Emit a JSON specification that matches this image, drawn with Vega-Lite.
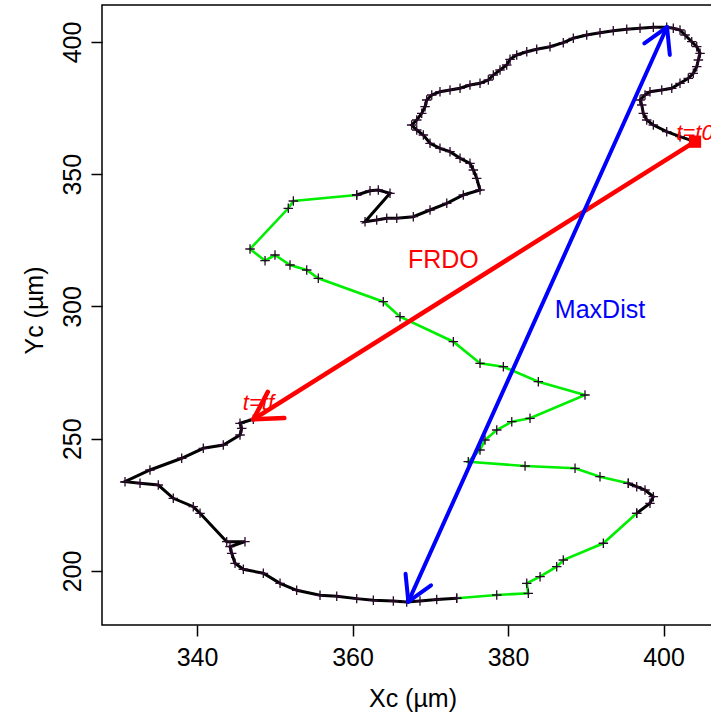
{
  "$schema": "https://vega.github.io/schema/vega-lite/v6.json",
  "width": 621,
  "height": 620,
  "autosize": {"type": "none"},
  "padding": {"left": 102, "top": 5, "right": 0, "bottom": 94},
  "background": "white",
  "config": {
    "view": {"stroke": "black", "strokeWidth": 1.5},
    "font": "Liberation Sans"
  },
  "datasets": {
    "track": [
      {"i":1,"x":404.05,"y":362.31,"seg":1,"speed":"slow"},
      {"i":2,"x":402.12,"y":364.20,"seg":1,"speed":"slow"},
      {"i":3,"x":400.41,"y":366.09,"seg":1,"speed":"slow"},
      {"i":4,"x":398.69,"y":368.62,"seg":1,"speed":"slow"},
      {"i":5,"x":397.84,"y":370.51,"seg":1,"speed":"slow"},
      {"i":6,"x":397.40,"y":373.04,"seg":1,"speed":"slow"},
      {"i":7,"x":397.20,"y":376.18,"seg":1,"speed":"slow"},
      {"i":8,"x":396.98,"y":378.07,"seg":1,"speed":"slow"},
      {"i":9,"x":397.62,"y":379.96,"seg":1,"speed":"slow"},
      {"i":10,"x":398.26,"y":381.21,"seg":1,"speed":"slow"},
      {"i":11,"x":399.77,"y":381.85,"seg":1,"speed":"slow"},
      {"i":12,"x":401.06,"y":382.50,"seg":1,"speed":"slow"},
      {"i":13,"x":402.12,"y":384.39,"seg":1,"speed":"slow"},
      {"i":14,"x":403.19,"y":386.28,"seg":1,"speed":"slow"},
      {"i":15,"x":403.83,"y":388.17,"seg":1,"speed":"slow"},
      {"i":16,"x":404.27,"y":390.66,"seg":1,"speed":"slow"},
      {"i":17,"x":404.48,"y":393.19,"seg":1,"speed":"slow"},
      {"i":18,"x":404.70,"y":395.73,"seg":1,"speed":"slow"},
      {"i":19,"x":404.27,"y":398.22,"seg":1,"speed":"slow"},
      {"i":20,"x":403.63,"y":400.11,"seg":1,"speed":"slow"},
      {"i":21,"x":402.77,"y":402.65,"seg":1,"speed":"slow"},
      {"i":22,"x":402.12,"y":404.54,"seg":1,"speed":"slow"},
      {"i":23,"x":401.26,"y":405.18,"seg":1,"speed":"slow"},
      {"i":24,"x":400.41,"y":405.56,"seg":1,"speed":"slow"},
      {"i":25,"x":398.69,"y":405.56,"seg":1,"speed":"slow"},
      {"i":26,"x":396.98,"y":405.18,"seg":1,"speed":"slow"},
      {"i":27,"x":395.27,"y":404.80,"seg":1,"speed":"slow"},
      {"i":28,"x":393.54,"y":404.27,"seg":1,"speed":"slow"},
      {"i":29,"x":391.83,"y":403.52,"seg":1,"speed":"slow"},
      {"i":30,"x":390.12,"y":402.65,"seg":1,"speed":"slow"},
      {"i":31,"x":388.40,"y":401.40,"seg":1,"speed":"slow"},
      {"i":32,"x":387.11,"y":399.74,"seg":1,"speed":"slow"},
      {"i":33,"x":385.40,"y":398.22,"seg":1,"speed":"slow"},
      {"i":34,"x":383.69,"y":397.24,"seg":1,"speed":"slow"},
      {"i":35,"x":382.41,"y":396.33,"seg":1,"speed":"slow"},
      {"i":36,"x":381.12,"y":395.09,"seg":1,"speed":"slow"},
      {"i":37,"x":380.26,"y":393.46,"seg":1,"speed":"slow"},
      {"i":38,"x":379.83,"y":391.30,"seg":1,"speed":"slow"},
      {"i":39,"x":378.97,"y":389.41,"seg":1,"speed":"slow"},
      {"i":40,"x":378.11,"y":387.52,"seg":1,"speed":"slow"},
      {"i":41,"x":377.47,"y":385.63,"seg":1,"speed":"slow"},
      {"i":42,"x":376.40,"y":384.39,"seg":1,"speed":"slow"},
      {"i":43,"x":375.11,"y":383.74,"seg":1,"speed":"slow"},
      {"i":44,"x":373.83,"y":382.50,"seg":1,"speed":"slow"},
      {"i":45,"x":372.54,"y":381.85,"seg":1,"speed":"slow"},
      {"i":46,"x":371.25,"y":381.21,"seg":1,"speed":"slow"},
      {"i":47,"x":370.19,"y":379.96,"seg":1,"speed":"slow"},
      {"i":48,"x":369.54,"y":378.07,"seg":1,"speed":"slow"},
      {"i":49,"x":369.33,"y":375.54,"seg":1,"speed":"slow"},
      {"i":50,"x":368.90,"y":373.04,"seg":1,"speed":"slow"},
      {"i":51,"x":368.26,"y":370.51,"seg":1,"speed":"slow"},
      {"i":52,"x":367.61,"y":368.62,"seg":1,"speed":"slow"},
      {"i":53,"x":368.26,"y":366.73,"seg":1,"speed":"slow"},
      {"i":54,"x":369.11,"y":364.84,"seg":1,"speed":"slow"},
      {"i":55,"x":369.97,"y":361.70,"seg":1,"speed":"slow"},
      {"i":56,"x":371.25,"y":359.81,"seg":1,"speed":"slow"},
      {"i":57,"x":372.54,"y":358.53,"seg":1,"speed":"slow"},
      {"i":58,"x":373.83,"y":356.03,"seg":1,"speed":"slow"},
      {"i":59,"x":375.11,"y":354.14,"seg":1,"speed":"slow"},
      {"i":60,"x":375.54,"y":351.61,"seg":1,"speed":"slow"},
      {"i":61,"x":375.97,"y":348.47,"seg":1,"speed":"slow"},
      {"i":62,"x":376.40,"y":344.05,"seg":1,"speed":"slow"},
      {"i":63,"x":374.25,"y":342.16,"seg":1,"speed":"slow"},
      {"i":64,"x":372.12,"y":339.02,"seg":1,"speed":"slow"},
      {"i":65,"x":369.97,"y":336.48,"seg":1,"speed":"slow"},
      {"i":66,"x":367.82,"y":333.95,"seg":1,"speed":"slow"},
      {"i":67,"x":365.69,"y":333.35,"seg":1,"speed":"slow"},
      {"i":68,"x":364.40,"y":333.35,"seg":1,"speed":"slow"},
      {"i":69,"x":363.11,"y":332.70,"seg":1,"speed":"slow"},
      {"i":70,"x":361.61,"y":332.06,"seg":1,"speed":"slow"},
      {"i":71,"x":364.82,"y":342.80,"seg":1,"speed":"slow"},
      {"i":72,"x":363.32,"y":344.05,"seg":1,"speed":"slow"},
      {"i":73,"x":362.25,"y":343.78,"seg":1,"speed":"slow"},
      {"i":74,"x":360.54,"y":342.16,"seg":1,"speed":"slow"},
      {"i":74,"x":360.54,"y":342.16,"seg":2,"speed":"fast"},
      {"i":75,"x":352.39,"y":339.89,"seg":2,"speed":"fast"},
      {"i":76,"x":351.74,"y":337.13,"seg":2,"speed":"fast"},
      {"i":77,"x":346.82,"y":321.74,"seg":2,"speed":"fast"},
      {"i":78,"x":348.75,"y":317.32,"seg":2,"speed":"fast"},
      {"i":79,"x":350.03,"y":319.47,"seg":2,"speed":"fast"},
      {"i":80,"x":351.96,"y":315.69,"seg":2,"speed":"fast"},
      {"i":81,"x":354.11,"y":313.80,"seg":2,"speed":"fast"},
      {"i":82,"x":355.60,"y":310.66,"seg":2,"speed":"fast"},
      {"i":83,"x":363.96,"y":301.82,"seg":2,"speed":"fast"},
      {"i":84,"x":366.11,"y":296.14,"seg":2,"speed":"fast"},
      {"i":85,"x":372.97,"y":286.69,"seg":2,"speed":"fast"},
      {"i":86,"x":376.40,"y":278.53,"seg":2,"speed":"fast"},
      {"i":87,"x":379.40,"y":277.24,"seg":2,"speed":"fast"},
      {"i":88,"x":383.90,"y":271.57,"seg":2,"speed":"fast"},
      {"i":89,"x":389.90,"y":266.54,"seg":2,"speed":"fast"},
      {"i":90,"x":382.83,"y":257.73,"seg":2,"speed":"fast"},
      {"i":91,"x":380.48,"y":256.45,"seg":2,"speed":"fast"},
      {"i":92,"x":378.55,"y":253.31,"seg":2,"speed":"fast"},
      {"i":93,"x":377.04,"y":249.53,"seg":2,"speed":"fast"},
      {"i":94,"x":376.40,"y":245.75,"seg":2,"speed":"fast"},
      {"i":95,"x":374.89,"y":241.32,"seg":2,"speed":"fast"},
      {"i":96,"x":382.19,"y":239.70,"seg":2,"speed":"fast"},
      {"i":97,"x":388.62,"y":238.83,"seg":2,"speed":"fast"},
      {"i":98,"x":391.83,"y":235.65,"seg":2,"speed":"fast"},
      {"i":99,"x":395.47,"y":233.16,"seg":2,"speed":"fast"},
      {"i":99,"x":395.47,"y":233.16,"seg":3,"speed":"slow"},
      {"i":100,"x":396.55,"y":231.87,"seg":3,"speed":"slow"},
      {"i":101,"x":397.62,"y":230.63,"seg":3,"speed":"slow"},
      {"i":102,"x":398.69,"y":228.09,"seg":3,"speed":"slow"},
      {"i":103,"x":398.26,"y":225.60,"seg":3,"speed":"slow"},
      {"i":104,"x":396.55,"y":221.82,"seg":3,"speed":"slow"},
      {"i":104,"x":396.55,"y":221.82,"seg":4,"speed":"fast"},
      {"i":105,"x":392.26,"y":210.48,"seg":4,"speed":"fast"},
      {"i":106,"x":387.11,"y":204.16,"seg":4,"speed":"fast"},
      {"i":107,"x":386.26,"y":201.63,"seg":4,"speed":"fast"},
      {"i":108,"x":384.12,"y":197.85,"seg":4,"speed":"fast"},
      {"i":109,"x":382.41,"y":195.35,"seg":4,"speed":"fast"},
      {"i":110,"x":382.61,"y":191.57,"seg":4,"speed":"fast"},
      {"i":111,"x":378.55,"y":190.93,"seg":4,"speed":"fast"},
      {"i":112,"x":373.40,"y":189.69,"seg":4,"speed":"fast"},
      {"i":112,"x":373.40,"y":189.69,"seg":5,"speed":"slow"},
      {"i":113,"x":370.83,"y":189.18,"seg":5,"speed":"slow"},
      {"i":114,"x":368.68,"y":188.65,"seg":5,"speed":"slow"},
      {"i":115,"x":366.97,"y":188.27,"seg":5,"speed":"slow"},
      {"i":116,"x":365.25,"y":188.65,"seg":5,"speed":"slow"},
      {"i":117,"x":362.68,"y":188.90,"seg":5,"speed":"slow"},
      {"i":118,"x":360.54,"y":189.55,"seg":5,"speed":"slow"},
      {"i":119,"x":357.97,"y":190.43,"seg":5,"speed":"slow"},
      {"i":120,"x":355.82,"y":190.81,"seg":5,"speed":"slow"},
      {"i":121,"x":352.82,"y":192.70,"seg":5,"speed":"slow"},
      {"i":122,"x":350.68,"y":195.35,"seg":5,"speed":"slow"},
      {"i":123,"x":348.53,"y":199.13,"seg":5,"speed":"slow"},
      {"i":124,"x":345.96,"y":200.65,"seg":5,"speed":"slow"},
      {"i":125,"x":344.89,"y":202.91,"seg":5,"speed":"slow"},
      {"i":126,"x":344.46,"y":206.69,"seg":5,"speed":"slow"},
      {"i":127,"x":344.24,"y":209.18,"seg":5,"speed":"slow"},
      {"i":128,"x":346.17,"y":211.08,"seg":5,"speed":"slow"},
      {"i":129,"x":343.82,"y":211.08,"seg":5,"speed":"slow"},
      {"i":130,"x":340.39,"y":221.82,"seg":5,"speed":"slow"},
      {"i":131,"x":339.52,"y":224.31,"seg":5,"speed":"slow"},
      {"i":132,"x":336.95,"y":227.49,"seg":5,"speed":"slow"},
      {"i":133,"x":335.02,"y":232.51,"seg":5,"speed":"slow"},
      {"i":134,"x":332.67,"y":233.16,"seg":5,"speed":"slow"},
      {"i":135,"x":330.74,"y":233.77,"seg":5,"speed":"slow"},
      {"i":136,"x":333.95,"y":238.19,"seg":5,"speed":"slow"},
      {"i":137,"x":338.03,"y":242.62,"seg":5,"speed":"slow"},
      {"i":138,"x":340.81,"y":246.39,"seg":5,"speed":"slow"},
      {"i":139,"x":343.38,"y":247.64,"seg":5,"speed":"slow"},
      {"i":140,"x":345.53,"y":251.42,"seg":5,"speed":"slow"},
      {"i":141,"x":345.75,"y":253.95,"seg":5,"speed":"slow"},
      {"i":142,"x":345.53,"y":255.84,"seg":5,"speed":"slow"},
      {"i":143,"x":347.24,"y":257.35,"seg":5,"speed":"slow"}
    ],
    "arrows": [
      {"arrow":"FRDO","x":404.05,"y":362.31,"x2":347.24,"y2":257.35},
      {"arrow":"FRDO","x":347.24,"y":257.35,"x2":351.23,"y2":257.80},
      {"arrow":"FRDO","x":347.24,"y":257.35,"x2":349.11,"y2":267.72},
      {"arrow":"MaxDist","x":367.18,"y":188.40,"x2":400.45,"y2":405.67},
      {"arrow":"MaxDist","x":367.18,"y":188.40,"x2":370.10,"y2":194.60},
      {"arrow":"MaxDist","x":367.18,"y":188.40,"x2":366.82,"y2":198.94},
      {"arrow":"MaxDist","x":400.45,"y":405.67,"x2":397.53,"y2":399.47},
      {"arrow":"MaxDist","x":400.45,"y":405.67,"x2":400.81,"y2":395.12}
    ],
    "labels": [
      {"label":"FRDO","x":371.68,"y":317.58,"kind":"FRDO"},
      {"label":"MaxDist","x":391.83,"y":298.68,"kind":"MaxDist"},
      {"label":"t=t0","x":404.05,"y":362.95,"kind":"t"},
      {"label":"t=tf","x":347.9,"y":260.9,"kind":"t"}
    ]
  },
  "encoding": {
    "x": {
      "field": "x", "type": "quantitative",
      "scale": {"domain": [327.78, 407.65], "nice": false, "zero": false},
      "axis": {
        "title": "Xc (µm)", "values": [340, 360, 380, 400], "grid": false, "domain": false,
        "tickSize": 11, "tickColor": "black", "tickWidth": 1.5,
        "labelFont": "Liberation Sans", "labelFontSize": 25, "labelColor": "black", "labelPadding": 9,
        "labelFlush": false, "labelOverlap": false, "labelBound": false,
        "titleFont": "Liberation Sans", "titleFontSize": 25, "titleFontWeight": "normal", "titleColor": "black",
        "titleBaseline": "alphabetic", "titleY": 81
      }
    },
    "y": {
      "field": "y", "type": "quantitative",
      "scale": {"domain": [179.58, 413.99], "nice": false, "zero": false},
      "axis": {
        "title": "Yc (µm)", "values": [200, 250, 300, 350, 400], "grid": false, "domain": false,
        "tickSize": 11, "tickColor": "black", "tickWidth": 1.5,
        "labelFont": "Liberation Sans", "labelFontSize": 25, "labelColor": "black", "labelPadding": 11,
        "labelAngle": -90, "labelAlign": "center", "labelBaseline": "alphabetic",
        "labelFlush": false, "labelOverlap": false, "labelBound": false,
        "titleFont": "Liberation Sans", "titleFontSize": 25, "titleFontWeight": "normal", "titleColor": "black",
        "titleAngle": -90, "titleAlign": "center", "titleBaseline": "alphabetic", "titleX": -60, "titleY": 305
      }
    }
  },
  "layer": [
    {
      "data": {"name": "track"},
      "transform": [{"filter": "datum.speed === 'fast'"}],
      "mark": {"type": "line", "color": "#00ee00", "strokeWidth": 2.6, "clip": true},
      "encoding": {"detail": {"field": "seg", "type": "nominal"}, "order": {"field": "i", "type": "quantitative"}}
    },
    {
      "data": {"name": "track"},
      "transform": [{"filter": "datum.speed === 'slow'"}],
      "mark": {"type": "line", "color": "black", "strokeWidth": 3, "clip": true},
      "encoding": {"detail": {"field": "seg", "type": "nominal"}, "order": {"field": "i", "type": "quantitative"}}
    },
    {
      "data": {"name": "track"},
      "mark": {"type": "point", "shape": "M-1,0H1M0,-1V1", "filled": false, "stroke": "#2a0a2a", "strokeWidth": 1.3, "size": 90, "opacity": 1, "clip": true}
    },
    {
      "data": {"name": "arrows"},
      "transform": [{"filter": "datum.arrow === 'FRDO'"}],
      "mark": {"type": "rule", "color": "#ff0000", "strokeWidth": 4.5, "strokeCap": "round", "clip": true},
      "encoding": {"x2": {"field": "x2"}, "y2": {"field": "y2"}}
    },
    {
      "data": {"name": "arrows"},
      "transform": [{"filter": "datum.arrow === 'MaxDist'"}],
      "mark": {"type": "rule", "color": "#0000ff", "strokeWidth": 4, "strokeCap": "round", "clip": true},
      "encoding": {"x2": {"field": "x2"}, "y2": {"field": "y2"}}
    },
    {
      "data": {"values": [{"x": 404.05, "y": 362.31}]},
      "mark": {"type": "point", "shape": "square", "filled": true, "color": "#ff0000", "size": 150, "opacity": 1}
    },
    {
      "data": {"name": "labels"},
      "transform": [{"filter": "datum.kind === 'FRDO'"}],
      "mark": {"type": "text", "font": "Liberation Sans", "fontSize": 25, "color": "#ff0000", "align": "center", "baseline": "middle"},
      "encoding": {"text": {"field": "label"}}
    },
    {
      "data": {"name": "labels"},
      "transform": [{"filter": "datum.kind === 'MaxDist'"}],
      "mark": {"type": "text", "font": "Liberation Sans", "fontSize": 25, "color": "#0000ff", "align": "center", "baseline": "middle"},
      "encoding": {"text": {"field": "label"}}
    },
    {
      "data": {"name": "labels"},
      "transform": [{"filter": "datum.kind === 't'"}],
      "mark": {"type": "text", "font": "Liberation Sans", "fontSize": 22, "fontStyle": "italic", "color": "#ff0000", "align": "center", "baseline": "alphabetic"},
      "encoding": {"text": {"field": "label"}}
    }
  ]
}
